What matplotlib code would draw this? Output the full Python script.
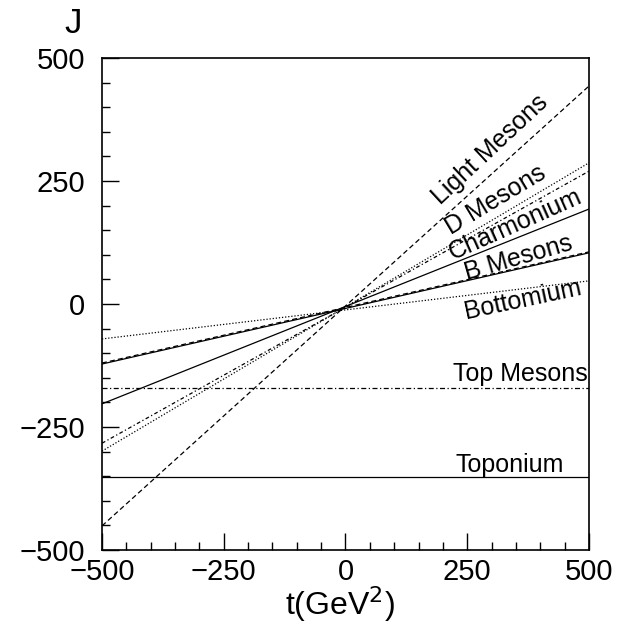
import matplotlib
matplotlib.use("Agg")
import matplotlib.pyplot as plt
from matplotlib.ticker import MultipleLocator, FuncFormatter

plt.rcParams['font.family'] = ['Liberation Sans', 'DejaVu Sans']

# t range where each trajectory is drawn (GeV^2)
t_ends = [-500, 500]

# J at t=-500 and t=+500
light_mesons = [-451, 443]
d_mesons = [-299, 287]
d_mesons_2 = [-283, 270]
charmonium = [-203, 193]
b_mesons = [-122, 104]
b_mesons_2 = [-120, 106]
bottomium = [-71, 47]
top_mesons = [-171, -171]
toponium = [-352, -352]

labels = ["Light Mesons", "D Mesons", "Charmonium", "B Mesons",
          "Bottomium", "Top Mesons", "Toponium"]
label_t = [297, 309, 348, 356, 364, 360, 338]
label_j = [313, 211, 161, 94, 8, -142, -327]
label_rot = [43, 31, 24, 16, 12, 0, 0]

fig = plt.figure(figsize=(6.23, 6.25), dpi=100)
ax = fig.add_axes([0.1637, 0.12, 0.7817, 0.7872])

lw = 0.9
ax.plot(t_ends, light_mesons, color="black", lw=lw, ls=(0, (4, 2.5)))
ax.plot(t_ends, d_mesons, color="black", lw=lw, ls=(0, (1, 1.5)))
ax.plot(t_ends, d_mesons_2, color="black", lw=lw, ls=(0, (3, 2, 1, 2)))
ax.plot(t_ends, charmonium, color="black", lw=lw, ls="-")
ax.plot(t_ends, b_mesons, color="black", lw=lw, ls="-")
ax.plot(t_ends, b_mesons_2, color="black", lw=lw, ls=(0, (4, 2.5)))
ax.plot(t_ends, bottomium, color="black", lw=lw, ls=(0, (1, 1.5)))
ax.plot(t_ends, top_mesons, color="black", lw=lw, ls=(0, (4, 2, 1, 2)))
ax.plot(t_ends, toponium, color="black", lw=lw, ls="-")

for lab, tx, jy, rot in zip(labels, label_t, label_j, label_rot):
    ax.text(tx, jy, lab, fontsize=18, rotation=rot, ha="center", va="center",
            rotation_mode="anchor")

ax.set_xlim(-500, 500)
ax.set_ylim(-500, 500)
ax.xaxis.set_major_locator(MultipleLocator(250))
ax.xaxis.set_minor_locator(MultipleLocator(50))
ax.yaxis.set_major_locator(MultipleLocator(250))
ax.yaxis.set_minor_locator(MultipleLocator(50))
ax.tick_params(which="both", direction="in", top=False, right=False,
               labelsize=21, width=1)
ax.tick_params(axis="x", pad=6)
ax.tick_params(axis="y", pad=12)
ax.tick_params(which="major", length=12)
ax.tick_params(which="minor", length=6)
for sp in ax.spines.values():
    sp.set_linewidth(1.2)

fmt = FuncFormatter(lambda v, p: ("\u2212%d" % -v) if v < 0 else "%d" % v)
ax.xaxis.set_major_formatter(fmt)
ax.yaxis.set_major_formatter(fmt)

# axis titles placed in figure coords so the bottom one stays inside
fig.text(0.545, 0.033, "t(GeV$^2$)", fontsize=23, ha="center", va="center")
fig.text(0.118, 0.963, "J", fontsize=25, ha="center", va="center")

fig.savefig("out.png", dpi=100)
